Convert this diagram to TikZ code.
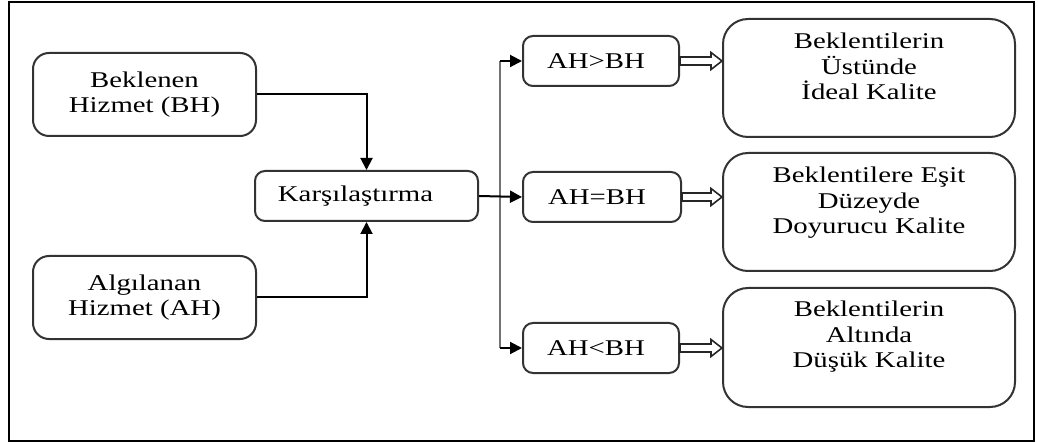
\documentclass[tikz,border=0pt]{standalone}
\usepackage{fontspec}
\setmainfont{Liberation Serif}[FakeStretch=1.28]
\usetikzlibrary{arrows.meta,calc}
\begin{document}
\begin{tikzpicture}[x=1pt,y=-1pt,
  every node/.style={font=\fontsize{22.5}{25.5}\selectfont, align=center},
  box/.style={draw=black!80, line width=2pt, fill=white, inner sep=0pt},
  inbox/.style={box, rounded corners=16pt, minimum width=223pt, minimum height=83pt},
  midbox/.style={box, rounded corners=10pt, minimum height=50pt},
  bigbox/.style={box, rounded corners=25pt, minimum width=292pt, minimum height=118pt},
  bigtext/.style={anchor=north, inner sep=0pt},
  link/.style={line width=2pt, -{Triangle[length=12pt,width=12pt]}},
  bus/.style={draw=black!55, line width=2pt},
  hollow/.style={draw=black!85, line width=1.6pt, fill=white, line join=miter,
    to path={let \p1=(\tikztostart), \p2=(\tikztotarget) in
      (\x1,\y1+4pt) -- (\x2-11pt,\y1+4pt) -- (\x2-11pt,\y1+8.5pt) -- (\x2,\y1)
      -- (\x2-11pt,\y1-8.5pt) -- (\x2-11pt,\y1-4pt) -- (\x1,\y1-4pt) -- cycle}}
]
\useasboundingbox (0,0) rectangle (1038,443);
% outer frame
\draw[line width=2.6pt] (9,2) rectangle (1034,441);

% inputs and comparison
\node[inbox] (bh) at (144.5,94.5) {Beklenen\\Hizmet (BH)};
\node[inbox] (ah) at (144.5,297.5) {Algılanan\\Hizmet (AH)};
\node[midbox, minimum width=223pt] (kar) at (366.5,196) {Karşılaştırma\hspace*{22pt}};

% comparison results
\node[midbox, minimum width=156pt] (g1) at (601,61) {AH>BH\hspace*{10pt}};
\node[midbox, minimum width=158pt] (g2) at (602,197) {AH=BH\hspace*{10pt}};
\node[midbox, minimum width=156pt] (g3) at (601,348) {AH<BH\hspace*{10pt}};

% quality outcomes
\node[bigbox] (r1) at (869,78) {};
\node[bigbox] (r2) at (869,212) {};
\node[bigbox, minimum height=119pt] (r3) at (869,347.5) {};
\node[bigtext] (r1t) at ([yshift=-15pt]r1.north) {Beklentilerin\\Üstünde\\İdeal Kalite};
\node[bigtext] (r2t) at ([yshift=-15pt]r2.north) {Beklentilere Eşit\\Düzeyde\\Doyurucu Kalite};
\node[bigtext] (r3t) at ([yshift=-14pt]r3.north) {Beklentilerin\\Altında\\Düşük Kalite};

% inputs into comparison
\draw[link] (bh.east) -| (kar.north);
\draw[link] (ah.east) -| (kar.south);

% distribution bus
\coordinate (bt) at (500,61);
\coordinate (bb) at (500,348);
\draw[bus] (bt) -- (bb);
\draw[link] (kar.east) -- (g2.west);
\draw[link] (bt) -- (g1.west);
\draw[link] (bb) -- (g3.west);

% hollow arrows to outcomes
\draw[hollow] (g1.east) to (r1.west);
\draw[hollow] (g2.east) to (r2.west);
\draw[hollow] (g3.east) to (r3.west);
\end{tikzpicture}
\end{document}
